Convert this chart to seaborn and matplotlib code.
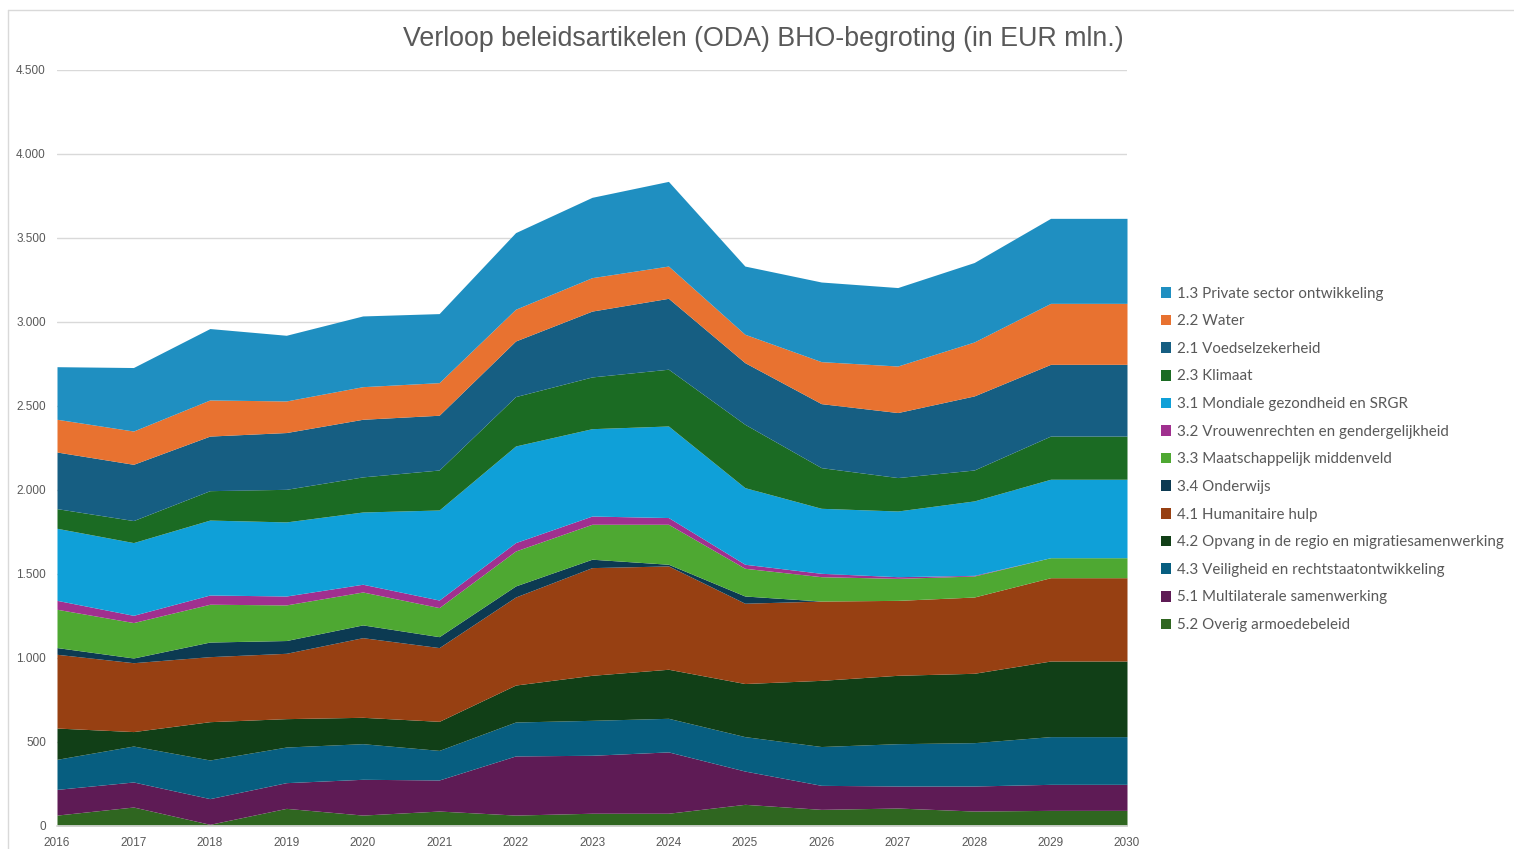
import numpy as np
import matplotlib
matplotlib.use("Agg")
import matplotlib.pyplot as plt
import seaborn as sns
from matplotlib.patches import Patch
from matplotlib.lines import Line2D
from matplotlib.ticker import FuncFormatter, MultipleLocator

### Data (EUR mln.)
years = list(range(2016, 2031))

# series from bottom of the stack to the top
labels = [
    "5.2 Overig armoedebeleid",
    "5.1 Multilaterale samenwerking",
    "4.3 Veiligheid en rechtstaatontwikkeling",
    "4.2 Opvang in de regio en migratiesamenwerking",
    "4.1 Humanitaire hulp",
    "3.4 Onderwijs",
    "3.3 Maatschappelijk middenveld",
    "3.2 Vrouwenrechten en gendergelijkheid",
    "3.1 Mondiale gezondheid en SRGR",
    "2.3 Klimaat",
    "2.1 Voedselzekerheid",
    "2.2 Water",
    "1.3 Private sector ontwikkeling",
]

overig = [65, 113, 10, 105, 65, 89, 65, 76, 76, 129, 99, 107, 89, 93, 93]
multilateraal = [153, 149, 153, 153, 213, 185, 352, 345, 365, 198, 143, 131, 149, 155, 155]
veiligheid = [179, 214, 230, 212, 212, 176, 202, 208, 200, 205, 231, 252, 258, 284, 284]
opvang = [186, 86, 228, 169, 157, 173, 220, 268, 292, 316, 394, 407, 413, 450, 450]
humanitair = [439, 410, 387, 389, 474, 439, 524, 641, 615, 478, 472, 446, 454, 496, 496]
onderwijs = [40, 28, 87, 76, 76, 65, 66, 50, 10, 43, 0, 0, 0, 0, 0]
middenveld = [228, 211, 225, 212, 196, 173, 208, 208, 238, 165, 145, 131, 125, 119, 119]
vrouwenrechten = [53, 43, 55, 53, 46, 45, 50, 49, 40, 24, 20, 10, 4, 0, 0]
gezondheid = [429, 433, 446, 441, 430, 536, 575, 520, 545, 456, 387, 391, 443, 467, 467]
klimaat = [117, 131, 175, 194, 209, 238, 294, 308, 338, 377, 242, 199, 184, 257, 257]
voedsel = [337, 335, 325, 338, 343, 326, 331, 392, 422, 367, 381, 387, 441, 427, 427]
water = [195, 198, 215, 188, 194, 194, 189, 199, 192, 169, 250, 277, 321, 363, 363]
private_sector = [313, 378, 425, 391, 421, 411, 456, 478, 504, 406, 474, 467, 473, 506, 506]

series = [overig, multilateraal, veiligheid, opvang, humanitair, onderwijs, middenveld,
          vrouwenrechten, gezondheid, klimaat, voedsel, water, private_sector]

colors = ["#2F6620", "#5E1B55", "#075E80", "#113F17", "#974012", "#0C3A52", "#4EA832",
          "#A0308F", "#0FA0D8", "#1B6B23", "#165E82", "#E87230", "#1F8FC1"]

text_gray = "#595959"

sns.set_theme(style="white")
plt.rcParams['font.family'] = ['Liberation Sans', 'DejaVu Sans']

fig = plt.figure(figsize=(15.14, 8.49), dpi=100)
ax = fig.add_axes([57 / 1514, 23 / 849, (1127 - 57) / 1514, 756 / 849])

ax.stackplot(years, *series, colors=colors, linewidth=0, antialiased=True)

ax.set_xlim(2016, 2030)
ax.set_ylim(0, 4500)
ax.yaxis.set_major_locator(MultipleLocator(500))
ax.xaxis.set_major_locator(MultipleLocator(1))
ax.yaxis.set_major_formatter(FuncFormatter(lambda v, p: f"{int(v):,}".replace(",", ".")))
ax.grid(True, axis='y', color='#D9D9D9', linewidth=1.0)
ax.set_axisbelow(True)

for side in ['top', 'right', 'left']:
    ax.spines[side].set_visible(False)
ax.spines['bottom'].set_color('#D9D9D9')
ax.tick_params(axis='x', colors=text_gray, labelsize=8.5, length=4, width=0.8, color='#D9D9D9', pad=4)
ax.tick_params(axis='y', colors=text_gray, labelsize=8.5, length=0, pad=8)

# Title
fig.text(763 / 1514, 1 - 39 / 849, "Verloop beleidsartikelen (ODA) BHO-begroting (in EUR mln.)",
         ha='center', va='center', fontsize=19.3, color=text_gray)

# Legend (top series first)
handles = [Patch(facecolor=c, edgecolor='none') for c in colors[::-1]]
fig.legend(handles, labels[::-1], loc='upper left', bbox_to_anchor=(1147 / 1514, 1 - 273 / 849),
           frameon=False, labelcolor=text_gray, handlelength=0.7, handleheight=0.7,
           handletextpad=0.35, labelspacing=0.9, prop={'family': ['Lato', 'DejaVu Sans'], 'size': 10.9})

# Chart frame lines (top and left border)
fig.add_artist(Line2D([8 / 1514, 1], [1 - 10 / 849, 1 - 10 / 849], color='#D9D9D9', linewidth=1))
fig.add_artist(Line2D([8 / 1514, 8 / 1514], [0, 1 - 10 / 849], color='#D9D9D9', linewidth=1))

fig.savefig("out.png", dpi=100)
